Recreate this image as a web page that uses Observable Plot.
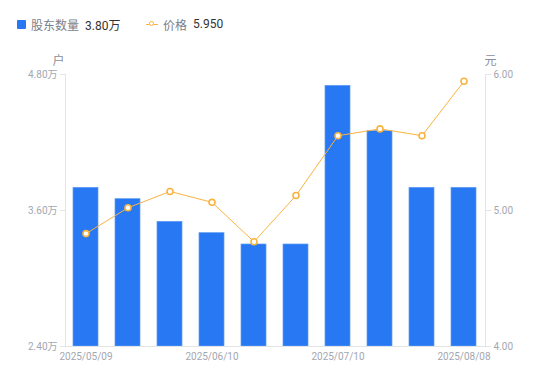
<!DOCTYPE html>
<html>
<head>
<meta charset="utf-8">
<script src="https://cdn.jsdelivr.net/npm/d3@7"></script>
<script src="https://cdn.jsdelivr.net/npm/@observablehq/plot@0.6"></script>
<style>
  html, body { margin: 0; padding: 0; background: #fff; }
  body { width: 550px; height: 381px; overflow: hidden; font-family: Roboto, "Noto Sans CJK SC", sans-serif; }
  #legend { height: 48px; position: relative; font-size: 12px; }
  .item { position: absolute; top: 16px; display: flex; align-items: center; height: 16px; white-space: nowrap; }
  .name { color: #7a7f8a; margin-right: 6px; }
  .val { color: #333; }
  .sq { width: 9px; height: 9px; background: #2778f2; border-radius: 1px; margin-right: 5px; }
  .ln { width: 12px; height: 12px; position: relative; margin-right: 5px; }
  .ln::before { content: ""; position: absolute; left: 0; right: 0; top: 5.5px; height: 1px; background: #f8b440; }
  .ln::after { content: ""; position: absolute; left: 3px; top: 3px; width: 3px; height: 3px; border: 1.5px solid #f8b440; border-radius: 50%; background: #fff; }
</style>
</head>
<body>
<div id="legend">
  <div class="item" style="left:17px"><div class="sq"></div><span class="name">股东数量</span><span class="val" id="v1"></span></div>
  <div class="item" style="left:146px"><div class="ln"></div><span class="name">价格</span><span class="val" id="v2"></span></div>
</div>
<div id="chart"></div>
<script>
const dates = ["2025/05/09","2025/05/20","2025/05/30","2025/06/10","2025/06/20","2025/06/30","2025/07/10","2025/07/18","2025/07/31","2025/08/08"];
const holders = [3.80, 3.70, 3.50, 3.40, 3.30, 3.30, 4.70, 4.30, 3.80, 3.80]; // 万户
const prices = [4.83, 5.02, 5.14, 5.06, 4.77, 5.11, 5.55, 5.60, 5.55, 5.95];
const shownDates = ["2025/05/09","2025/06/10","2025/07/10","2025/08/08"];
const leftTicks = [2.4, 3.6, 4.8];
const rightTicks = [4.0, 5.0, 6.0];

const yMin = 2.4, yMax = 4.8, pMin = 4.0, pMax = 6.0;
const toY = p => yMin + (p - pMin) * (yMax - yMin) / (pMax - pMin);
const fromY = y => pMin + (y - yMin) * (pMax - pMin) / (yMax - yMin);

const data = dates.map((d, i) => ({date: d, holders: holders[i], price: prices[i], py: toY(prices[i])}));

document.getElementById("v1").textContent = holders[holders.length - 1].toFixed(2) + "万";
document.getElementById("v2").textContent = prices[prices.length - 1].toFixed(3);

const blue = "#2778f2", orange = "#f8b440", axisGray = "#e3e4e8", textGray = "#a3a7b0";

const chart = Plot.plot({
  width: 550,
  height: 333,
  marginTop: 26,
  marginBottom: 35,
  marginLeft: 65,
  marginRight: 65,
  style: {fontFamily: 'Roboto, "Noto Sans CJK SC", sans-serif', fontSize: "10px", background: "#fff"},
  x: {type: "band", domain: dates, paddingInner: 0.4, paddingOuter: 0.2},
  y: {domain: [yMin, yMax]},
  marks: [
    Plot.barY(data, {x: "date", y1: yMin, y2: "holders", fill: blue, stroke: "#5f9cf6", strokeWidth: 0.7, clip: true}),
    Plot.frame({anchor: "left", stroke: axisGray}),
    Plot.frame({anchor: "right", stroke: axisGray}),
    Plot.frame({anchor: "bottom", stroke: axisGray}),
    Plot.axisY({anchor: "left", ticks: leftTicks, tickSize: 5, tickPadding: 3, stroke: axisGray, color: textGray,
      tickFormat: d => d.toFixed(2) + "万", label: null}),
    Plot.axisY({anchor: "right", ticks: rightTicks.map(toY), tickSize: 5, tickPadding: 3, stroke: axisGray, color: textGray,
      tickFormat: d => fromY(d).toFixed(2), label: null}),
    Plot.axisX({ticks: shownDates, tickSize: 0, tickPadding: 6, color: textGray, label: null}),
    Plot.line(data, {x: "date", y: "py", stroke: orange, strokeWidth: 1}),
    Plot.dot(data, {x: "date", y: "py", r: 3, stroke: orange, strokeWidth: 1.6, fill: "#fff"}),
    Plot.text(["户"], {frameAnchor: "top-left", dx: -7, dy: -18, fill: "#8a8f99", fontSize: 12, textAnchor: "middle"}),
    Plot.text(["元"], {frameAnchor: "top-right", dx: 5, dy: -18, fill: "#8a8f99", fontSize: 12, textAnchor: "middle"})
  ]
});
document.getElementById("chart").appendChild(chart);
</script>
</body>
</html>
